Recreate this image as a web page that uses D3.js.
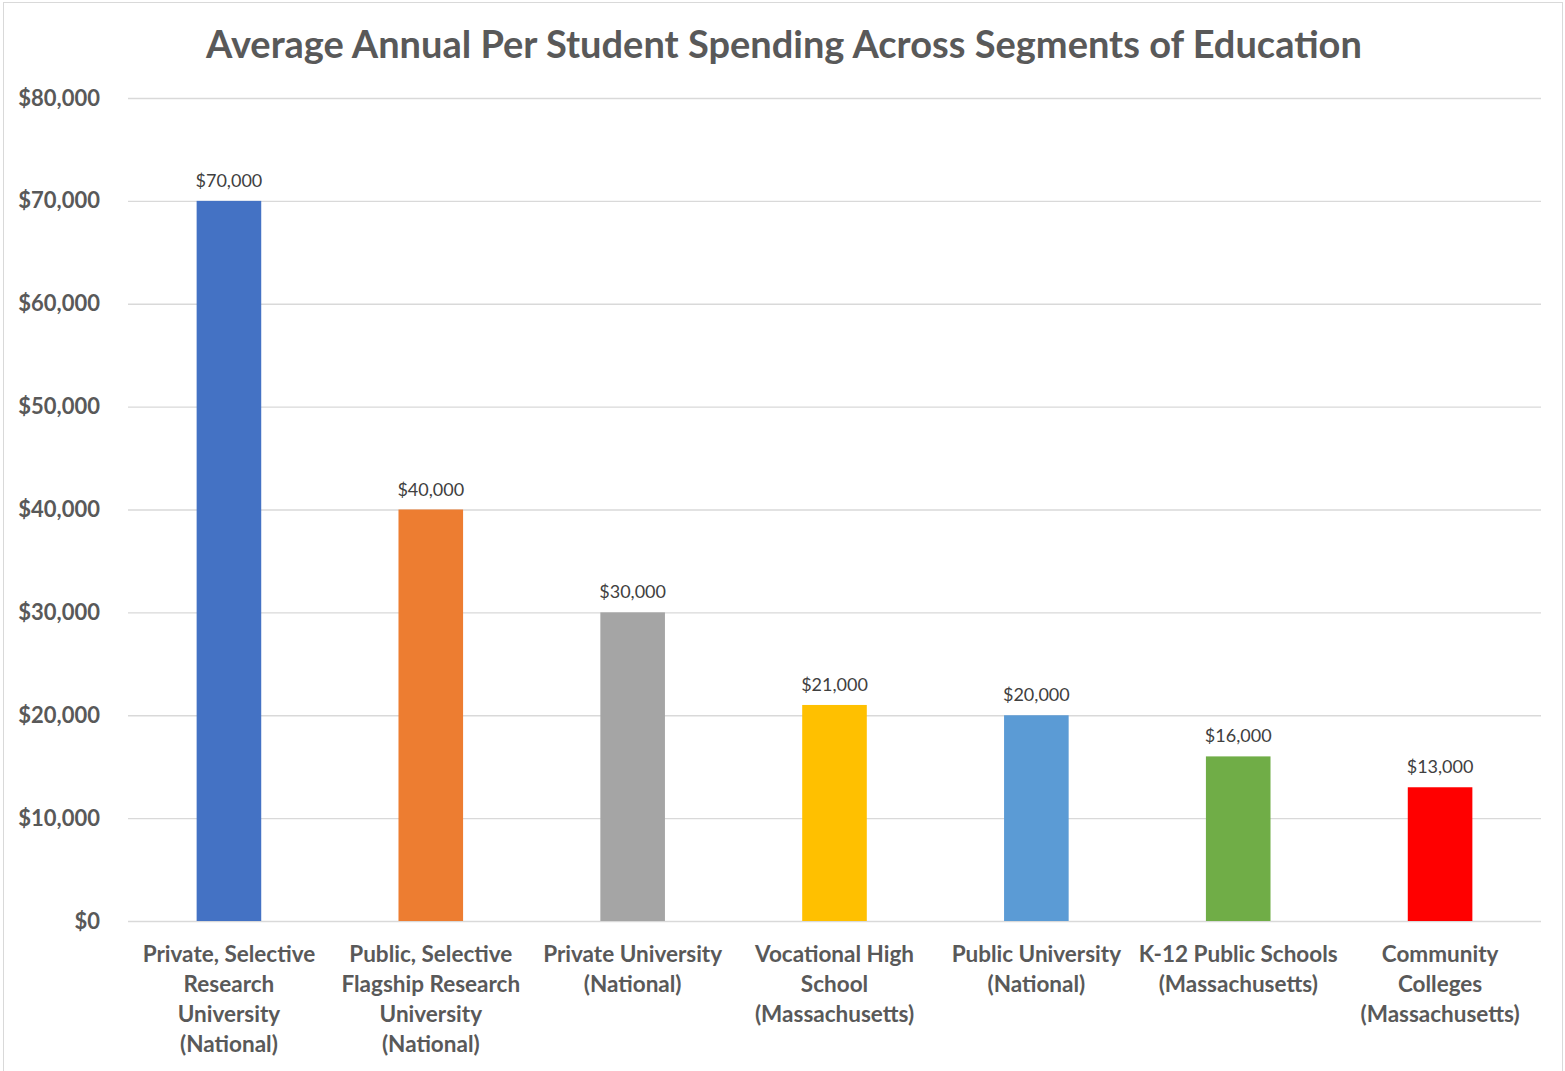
<!DOCTYPE html>
<html>
<head>
<meta charset="utf-8">
<script src="https://cdn.jsdelivr.net/npm/d3@7"></script>
<style>
    body { margin: 0; background: #fff; }
    svg { display: block; }
    .tick text { font-family: Lato, "Open Sans", sans-serif; }
</style>
</head>
<body>
<svg id="chart"></svg>
<script>
// data
const categories = [
    "Private, Selective|Research|University|(National)",
    "Public, Selective|Flagship Research|University|(National)",
    "Private University|(National)",
    "Vocational High|School|(Massachusetts)",
    "Public University|(National)",
    "K-12 Public Schools|(Massachusetts)",
    "Community|Colleges|(Massachusetts)"
]
const spending = [70000, 40000, 30000, 21000, 20000, 16000, 13000]
const barColors = ['#4472C4', '#ED7D31', '#A5A5A5', '#FFC000', '#5B9BD5', '#70AD47', '#FF0000']
const yTicks = [0, 10000, 20000, 30000, 40000, 50000, 60000, 70000, 80000]

const width = 1565, height = 1071
const margin = { top: 98, right: 24, bottom: 150, left: 128 }
const innerW = width - margin.left - margin.right
const innerH = height - margin.top - margin.bottom
const fmt = d3.format('$,')

const svg = d3.select('#chart')
    .attr('width', width)
    .attr('height', height)

// outer frame
svg.append('rect')
    .attr('x', 3.5).attr('y', 2.5)
    .attr('width', width - 6).attr('height', height)
    .attr('fill', '#fff')
    .attr('stroke', '#d9d9d9')

svg.append('text')
    .attr('x', 784).attr('y', 58)
    .attr('text-anchor', 'middle')
    .style('font-family', 'Lato, "Open Sans", sans-serif')
    .style('font-weight', 'bold')
    .style('font-size', '38px')
    .attr('fill', '#595959')
    .text('Average Annual Per Student Spending Across Segments of Education')

const chart = svg.append('g')
    .attr('transform', `translate(${margin.left}, ${margin.top})`)

const xScale = d3.scaleBand()
    .domain(categories)
    .range([0, innerW])
    .paddingInner(0.68)
    .paddingOuter(0.34)

const yScale = d3.scaleLinear()
    .domain([0, 80000])
    .range([innerH, 0])

// gridlines
chart.append('g')
    .call(d3.axisLeft(yScale).tickValues(yTicks).tickSize(-innerW).tickFormat(''))
    .call(g => g.select('.domain').remove())
    .call(g => g.selectAll('line').attr('stroke', '#d9d9d9').attr('stroke-width', 1.3))

// y axis labels
chart.append('g')
    .attr('transform', 'translate(-28, 0)')
    .call(d3.axisLeft(yScale).tickValues(yTicks).tickSize(0).tickFormat(fmt))
    .call(g => g.select('.domain').remove())
    .call(g => g.selectAll('text')
        .attr('fill', '#595959')
        .attr('x', 0)
        .style('font-size', '22px')
        .style('font-weight', 'bold'))

chart.selectAll('.bar')
    .data(spending)
    .join('rect')
        .attr('class', 'bar')
        .attr('x', (d, i) => xScale(categories[i]))
        .attr('width', xScale.bandwidth())
        .attr('y', d => yScale(d))
        .attr('height', d => innerH - yScale(d))
        .attr('fill', (d, i) => barColors[i])

chart.selectAll('.value-label')
    .data(spending)
    .join('text')
        .attr('class', 'value-label')
        .attr('x', (d, i) => xScale(categories[i]) + xScale.bandwidth() / 2)
        .attr('y', d => yScale(d) - 14)
        .attr('text-anchor', 'middle')
        .style('font-family', 'Lato, "Open Sans", sans-serif')
        .style('font-size', '18px')
        .attr('fill', '#404040')
        .text(d => fmt(d))

// category axis, labels wrap onto several lines
const xAxisGroup = chart.append('g')
    .attr('transform', `translate(0, ${innerH})`)
    .call(d3.axisBottom(xScale).tickSize(0).tickFormat(''))
    .call(g => g.select('.domain').remove())

xAxisGroup.selectAll('.tick text')
    .attr('fill', '#595959')
    .style('font-size', '22.5px')
    .style('font-weight', 'bold')
    .attr('y', 0)
    .attr('dy', null)
    .each(function (d) {
        const t = d3.select(this)
        d.split('|').forEach((line, j) => {
            t.append('tspan')
                .attr('x', 0)
                .attr('y', 41 + j * 30)
                .text(line)
        })
    })
</script>
</body>
</html>
